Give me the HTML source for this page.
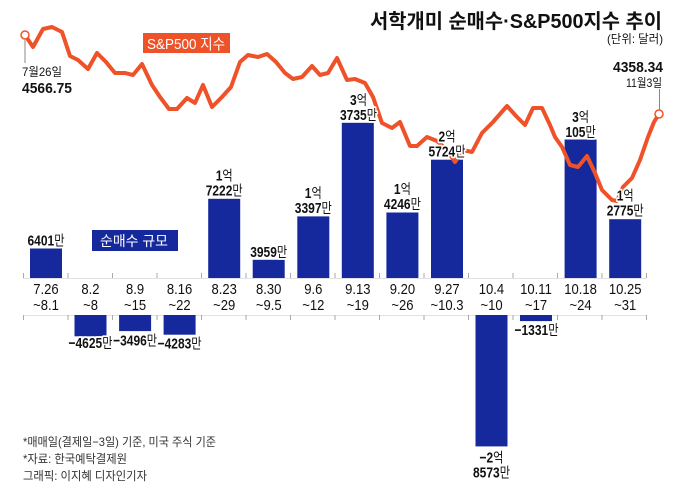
<!DOCTYPE html>
<html><head><meta charset="utf-8"><style>
html,body{margin:0;padding:0;background:#fff;}
svg{display:block;}
text{font-family:"Liberation Sans","Noto Sans CJK KR",sans-serif;fill:#111;}
.k{font-family:"Noto Sans CJK KR","Liberation Sans",sans-serif;}
.h{stroke:#fff;stroke-width:3.5;paint-order:stroke;stroke-linejoin:round;}
</style></head><body>
<svg width="680" height="491" viewBox="0 0 680 491" xmlns="http://www.w3.org/2000/svg">
<!-- axis -->
<g stroke="#e2e2e2" stroke-width="1">
<line x1="23" y1="278.5" x2="647" y2="278.5"/>
<line x1="23" y1="315.5" x2="647" y2="315.5"/>
</g>
<g stroke="#aaa" stroke-width="1">
<path d="M23.5 273V278 M68 273V278 M112.5 273V278 M157 273V278 M201.5 273V278 M246 273V278 M290.5 273V278 M335 273V278 M379.5 273V278 M424 273V278 M468.5 273V278 M513 273V278 M557.5 273V278 M602 273V278 M646.5 273V278"/>
<path d="M23.5 315V320 M68 315V320 M112.5 315V320 M157 315V320 M201.5 315V320 M246 315V320 M290.5 315V320 M335 315V320 M379.5 315V320 M424 315V320 M468.5 315V320 M513 315V320 M557.5 315V320 M602 315V320 M646.5 315V320"/>
</g>
<!-- bars -->
<g fill="#16299c">
<rect x="30" y="248.5" width="32" height="29.5"/>
<rect x="74.5" y="315" width="32" height="21.3"/>
<rect x="119.1" y="315" width="32" height="16.1"/>
<rect x="163.6" y="315" width="32" height="19.7"/>
<rect x="208.2" y="198.8" width="32" height="79.2"/>
<rect x="252.7" y="259.8" width="32" height="18.2"/>
<rect x="297.3" y="216.4" width="32" height="61.6"/>
<rect x="341.8" y="122.8" width="32" height="155.2"/>
<rect x="386.4" y="212.5" width="32" height="65.5"/>
<rect x="431" y="159.7" width="32" height="118.3"/>
<rect x="475.5" y="315" width="32" height="131.4"/>
<rect x="520" y="315" width="32" height="6.1"/>
<rect x="564.6" y="139.5" width="32" height="138.5"/>
<rect x="609.2" y="219.2" width="32" height="58.8"/>
</g>
<!-- connectors -->
<line x1="25" y1="40" x2="25" y2="63" stroke="#888" stroke-width="1"/>
<line x1="659.5" y1="89" x2="659.5" y2="110" stroke="#888" stroke-width="1"/>
<!-- S&P line -->
<polyline fill="none" stroke="#ef5228" stroke-width="4" stroke-linejoin="round" stroke-linecap="round" points="25,35 33,47 43,29 52,27 62,32 70,56 78,60 88,69 97,53 106,62 115,73 125,73 133,75 142,64 152,85 160,97 169,109 177,109 187,98 195,103 203,85 212,107 222,97 231,87 240,62 248,55 258,57 267,54 276,62 285,73 293,79 302,77 312,66 320,75 328,73 337,58 347,80 355,79 365,83 373,97 382,123 392,128 400,122 410,146 417,146 427,137 437,141 447,150 455,162 463,150 472,152 482,133 493,122 507,106 517,117 525,125 533,108 542,108 550,125 555,137 562,147 570,165 578,167 587,156 595,173 602,190 612,200 617,201 623,187 632,178 640,160 648,137 654,122 659,114"/>
<circle cx="25" cy="35" r="4" fill="#fff" stroke="#ef5228" stroke-width="1.5"/>
<circle cx="659" cy="114" r="4" fill="#fff" stroke="#ef5228" stroke-width="1.5"/>

<!-- title -->
<text x="370" y="28" font-size="20" font-weight="bold" textLength="292" lengthAdjust="spacingAndGlyphs">서학개미 순매수·S&amp;P500지수 추이</text>
<text x="607" y="43" font-size="12" fill="#333" textLength="56" lengthAdjust="spacingAndGlyphs">(단위: 달러)</text>

<!-- series tags -->
<rect x="143" y="33" width="87" height="20" fill="#ee5229"/>
<text x="147" y="49" font-size="15" style="fill:#fff" textLength="78" lengthAdjust="spacingAndGlyphs">S&amp;P500 지수</text>
<rect x="92" y="230" width="86" height="21" fill="#16299c"/>
<text x="100" y="246" font-size="14" style="fill:#fff" textLength="68" lengthAdjust="spacingAndGlyphs">순매수 규모</text>

<!-- endpoints -->
<text x="22" y="76" font-size="12" textLength="40" lengthAdjust="spacingAndGlyphs">7월26일</text>
<text x="22" y="93" font-size="15" font-weight="bold" textLength="50" lengthAdjust="spacingAndGlyphs">4566.75</text>
<text x="663" y="72" font-size="15" font-weight="bold" text-anchor="end" textLength="50" lengthAdjust="spacingAndGlyphs">4358.34</text>
<text x="662" y="87" font-size="12" text-anchor="end" textLength="36" lengthAdjust="spacingAndGlyphs">11월3일</text>

<!-- date labels -->
<g font-size="15">
<g transform="translate(46,294) scale(0.87,1)"><text text-anchor="middle">7.26</text><text y="16" text-anchor="middle">~8.1</text></g>
<g transform="translate(90.5,294) scale(0.87,1)"><text text-anchor="middle">8.2</text><text y="16" text-anchor="middle">~8</text></g>
<g transform="translate(135.1,294) scale(0.87,1)"><text text-anchor="middle">8.9</text><text y="16" text-anchor="middle">~15</text></g>
<g transform="translate(179.6,294) scale(0.87,1)"><text text-anchor="middle">8.16</text><text y="16" text-anchor="middle">~22</text></g>
<g transform="translate(224.2,294) scale(0.87,1)"><text text-anchor="middle">8.23</text><text y="16" text-anchor="middle">~29</text></g>
<g transform="translate(268.7,294) scale(0.87,1)"><text text-anchor="middle">8.30</text><text y="16" text-anchor="middle">~9.5</text></g>
<g transform="translate(313.3,294) scale(0.87,1)"><text text-anchor="middle">9.6</text><text y="16" text-anchor="middle">~12</text></g>
<g transform="translate(357.8,294) scale(0.87,1)"><text text-anchor="middle">9.13</text><text y="16" text-anchor="middle">~19</text></g>
<g transform="translate(402.4,294) scale(0.87,1)"><text text-anchor="middle">9.20</text><text y="16" text-anchor="middle">~26</text></g>
<g transform="translate(447,294) scale(0.87,1)"><text text-anchor="middle">9.27</text><text y="16" text-anchor="middle">~10.3</text></g>
<g transform="translate(491.5,294) scale(0.87,1)"><text text-anchor="middle">10.4</text><text y="16" text-anchor="middle">~10</text></g>
<g transform="translate(536,294) scale(0.87,1)"><text text-anchor="middle">10.11</text><text y="16" text-anchor="middle">~17</text></g>
<g transform="translate(580.6,294) scale(0.87,1)"><text text-anchor="middle">10.18</text><text y="16" text-anchor="middle">~24</text></g>
<g transform="translate(625.2,294) scale(0.87,1)"><text text-anchor="middle">10.25</text><text y="16" text-anchor="middle">~31</text></g>
</g>

<!-- value labels -->
<g font-size="15">
<g transform="translate(46,245.5) scale(0.8,1)"><text class="h" text-anchor="middle"><tspan font-weight="bold">6401</tspan><tspan class="k" font-size="14">만</tspan></text></g>
<g transform="translate(90.5,348) scale(0.8,1)"><text class="h" text-anchor="middle"><tspan font-weight="bold">−4625</tspan><tspan class="k" font-size="14">만</tspan></text></g>
<g transform="translate(135.1,345.5) scale(0.8,1)"><text class="h" text-anchor="middle"><tspan font-weight="bold">−3496</tspan><tspan class="k" font-size="14">만</tspan></text></g>
<g transform="translate(179.6,348.5) scale(0.8,1)"><text class="h" text-anchor="middle"><tspan font-weight="bold">−4283</tspan><tspan class="k" font-size="14">만</tspan></text></g>
<g transform="translate(224.2,195.5) scale(0.8,1)"><text class="h" y="-15" text-anchor="middle"><tspan font-weight="bold">1</tspan><tspan class="k" font-size="14">억</tspan></text><text class="h" text-anchor="middle"><tspan font-weight="bold">7222</tspan><tspan class="k" font-size="14">만</tspan></text></g>
<g transform="translate(268.7,257) scale(0.8,1)"><text class="h" text-anchor="middle"><tspan font-weight="bold">3959</tspan><tspan class="k" font-size="14">만</tspan></text></g>
<g transform="translate(313.3,213) scale(0.8,1)"><text class="h" y="-15" text-anchor="middle"><tspan font-weight="bold">1</tspan><tspan class="k" font-size="14">억</tspan></text><text class="h" text-anchor="middle"><tspan font-weight="bold">3397</tspan><tspan class="k" font-size="14">만</tspan></text></g>
<g transform="translate(358.5,120) scale(0.8,1)"><text class="h" y="-15" text-anchor="middle"><tspan font-weight="bold">3</tspan><tspan class="k" font-size="14">억</tspan></text><text class="h" text-anchor="middle"><tspan font-weight="bold">3735</tspan><tspan class="k" font-size="14">만</tspan></text></g>
<g transform="translate(402.4,209) scale(0.8,1)"><text class="h" y="-15" text-anchor="middle"><tspan font-weight="bold">1</tspan><tspan class="k" font-size="14">억</tspan></text><text class="h" text-anchor="middle"><tspan font-weight="bold">4246</tspan><tspan class="k" font-size="14">만</tspan></text></g>
<g transform="translate(447,156.5) scale(0.8,1)"><text class="h" y="-15" text-anchor="middle"><tspan font-weight="bold">2</tspan><tspan class="k" font-size="14">억</tspan></text><text class="h" text-anchor="middle"><tspan font-weight="bold">5724</tspan><tspan class="k" font-size="14">만</tspan></text></g>
<g transform="translate(491.5,462.5) scale(0.8,1)"><text class="h" text-anchor="middle"><tspan font-weight="bold">−2</tspan><tspan class="k" font-size="14">억</tspan></text><text class="h" y="15" text-anchor="middle"><tspan font-weight="bold">8573</tspan><tspan class="k" font-size="14">만</tspan></text></g>
<g transform="translate(536.5,335) scale(0.8,1)"><text class="h" text-anchor="middle"><tspan font-weight="bold">−1331</tspan><tspan class="k" font-size="14">만</tspan></text></g>
<g transform="translate(580.6,137) scale(0.8,1)"><text class="h" y="-15" text-anchor="middle"><tspan font-weight="bold">3</tspan><tspan class="k" font-size="14">억</tspan></text><text class="h" text-anchor="middle"><tspan font-weight="bold">105</tspan><tspan class="k" font-size="14">만</tspan></text></g>
<g transform="translate(625.2,215.5) scale(0.8,1)"><text class="h" y="-15" text-anchor="middle"><tspan font-weight="bold">1</tspan><tspan class="k" font-size="14">억</tspan></text><text class="h" text-anchor="middle"><tspan font-weight="bold">2775</tspan><tspan class="k" font-size="14">만</tspan></text></g>
</g>

<!-- footnotes -->
<g font-size="12">
<text x="23" y="446" textLength="193" lengthAdjust="spacingAndGlyphs" style="fill:#333">*매매일(결제일−3일) 기준, 미국 주식 기준</text>
<text x="23" y="463" textLength="104" lengthAdjust="spacingAndGlyphs" style="fill:#333">*자료: 한국예탁결제원</text>
<text x="23" y="480" textLength="124" lengthAdjust="spacingAndGlyphs" style="fill:#333">그래픽: 이지혜 디자인기자</text>
</g>
</svg>
</body></html>
